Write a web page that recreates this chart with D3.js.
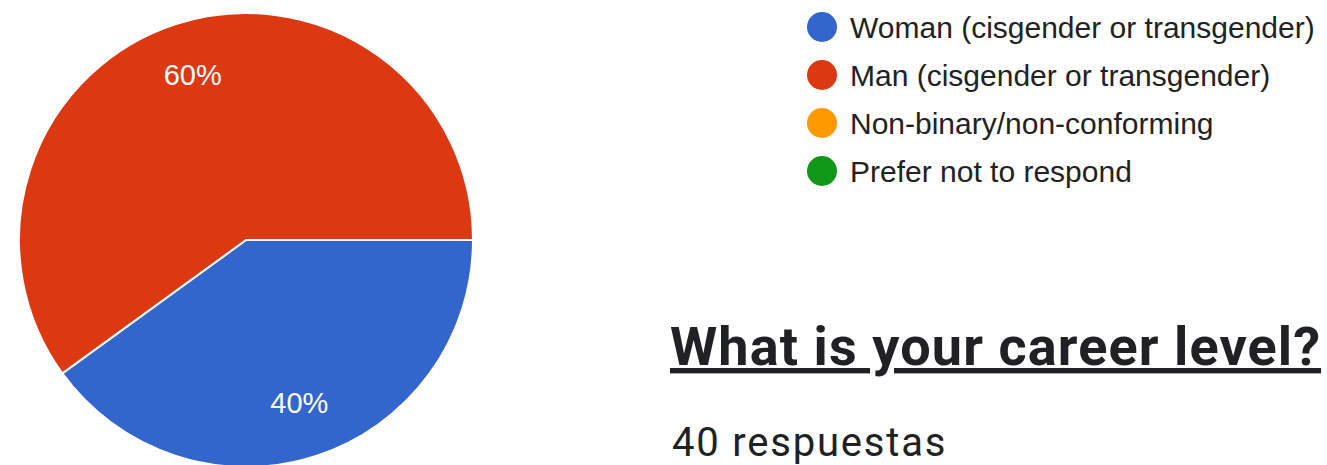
<!DOCTYPE html>
<html>
<head>
<meta charset="utf-8">
<script src="https://cdn.jsdelivr.net/npm/d3@7"></script>
<style>
  html, body { margin: 0; padding: 0; background: #fff; }
  svg { display: block; }
</style>
</head>
<body>
<svg id="chart" width="1327" height="465"></svg>
<script>
const categories = [
  "Woman (cisgender or transgender)",
  "Man (cisgender or transgender)",
  "Non-binary/non-conforming",
  "Prefer not to respond"
];
const values = [40, 60, 0, 0];
const colors = ["#3366cc", "#dc3912", "#ff9900", "#109618"];
const titleText = "What is your career level?";
const responsesText = "40 respuestas";

const svg = d3.select("#chart");
const cx = 246, cy = 240, r = 227;

const data = categories.map((c, i) => ({ name: c, value: values[i], color: colors[i] }));
const pie = d3.pie().sort(null).value(d => d.value)
  .startAngle(Math.PI / 2).endAngle(Math.PI / 2 + 2 * Math.PI);
const arcs = pie(data);
const arc = d3.arc().innerRadius(0).outerRadius(r);
const labelArc = d3.arc().innerRadius(r * 0.76).outerRadius(r * 0.76);
const total = d3.sum(values);

const g = svg.append("g").attr("transform", `translate(${cx},${cy})`);
g.selectAll("path").data(arcs.filter(d => d.value > 0)).join("path")
  .attr("d", arc)
  .attr("fill", d => d.data.color)
  .attr("stroke", "#fff")
  .attr("stroke-width", 2);

g.selectAll("text").data(arcs.filter(d => d.value > 0)).join("text")
  .attr("transform", d => `translate(${labelArc.centroid(d)})`)
  .attr("text-anchor", "middle")
  .attr("dy", "0.3em")
  .attr("fill", "#fff")
  .style("font-family", "'Liberation Sans', Arial, sans-serif")
  .style("font-size", "29px")
  .text(d => Math.round(d.value / total * 100) + "%");

// legend
const legend = svg.append("g");
const ly = d3.scaleBand().domain(categories).range([3, 195]);
const rows = legend.selectAll("g").data(data).join("g")
  .attr("transform", d => `translate(822,${ly(d.name) + ly.bandwidth() / 2})`);
rows.append("circle").attr("r", 15).attr("fill", d => d.color);
rows.append("text")
  .attr("x", 28)
  .attr("dy", "0.35em")
  .attr("fill", "#222")
  .style("font-family", "'Liberation Sans', Arial, sans-serif")
  .style("font-size", "30px")
  .text(d => d.name);

// title & responses
svg.append("text")
  .attr("x", 670).attr("y", 365)
  .attr("fill", "#202124")
  .style("font-family", "Roboto, sans-serif")
  .style("font-weight", "700")
  .style("font-size", "54px")
  .style("letter-spacing", "1.1px")
  .style("text-decoration", "underline")
  .text(titleText);

svg.append("text")
  .attr("x", 672).attr("y", 456)
  .attr("fill", "#202124")
  .style("font-family", "Roboto, sans-serif")
  .style("font-size", "40px")
  .style("letter-spacing", "1.8px")
  .text(responsesText);
</script>
</body>
</html>
